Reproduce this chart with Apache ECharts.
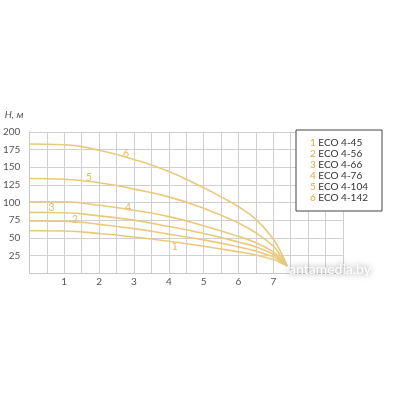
<!DOCTYPE html>
<html>
<head>
<meta charset="utf-8">
<script src="https://cdn.jsdelivr.net/npm/echarts@6/dist/echarts.min.js"></script>
<style>html,body{margin:0;padding:0;background:#fff}#c{width:400px;height:400px}</style>
</head>
<body>
<div id="c"></div>
<script>
var seriesNames = ['ECO 4-45', 'ECO 4-56', 'ECO 4-66', 'ECO 4-76', 'ECO 4-104', 'ECO 4-142'];
var curve1 = [[0,60],[1,59.5],[2,56],[3,51],[4,45],[5,38],[6,30],[6.5,25.5],[7,19],[7.2,15],[7.4,10]];
var curve2 = [[0,74],[1,73.5],[2,69],[3,63],[4,55],[5,47],[6,37],[6.5,31],[7,23],[7.2,17],[7.4,10]];
var curve3 = [[0,86],[1,85.5],[2,81],[3,75],[4,66],[5,56],[6,44],[6.5,37],[7,26.5],[7.2,19],[7.4,10]];
var curve4 = [[0,101],[1,101],[2,96],[3,89],[4,80],[5,67],[6,52],[6.5,43],[7,30],[7.2,21],[7.4,10]];
var curve5 = [[0,134],[1,133],[2,128],[3,119],[4,108],[5,92],[6,71],[6.5,57],[7,38],[7.2,25],[7.4,10]];
var curve6 = [[0,183],[1,182],[2,174],[3,161],[4,144],[5,121],[5.5,108],[6,94],[6.5,76],[7,48],[7.2,31],[7.4,10]];
var curveNumbers = ['1','2','3','4','5','6'];
var numberPositions = [[4.17,37],[1.31,76],[0.63,93],[2.83,93],[1.71,136],[2.77,169]];
var xTickLabels = ['1','2','3','4','5','6','7'];

var curves = [curve1, curve2, curve3, curve4, curve5, curve6];
var lineColor = '#ebc97c';
var numColor = '#dcab45';

var series = curves.map(function (c, i) {
  return {
    name: curveNumbers[i] + ' ' + seriesNames[i],
    type: 'line',
    data: c,
    smooth: 0.5,
    showSymbol: false,
    lineStyle: { color: lineColor, width: 1.6 },
    itemStyle: { color: lineColor },
    silent: true
  };
});
series.push({
  type: 'scatter',
  data: numberPositions.map(function (p, i) { return { value: p, name: curveNumbers[i] }; }),
  symbolSize: 0,
  silent: true,
  label: { show: true, position: 'inside', formatter: '{b}', color: numColor, fontSize: 11, fontFamily: 'Lato' }
});

var chart = echarts.init(document.getElementById('c'), null, { renderer: 'canvas' });
chart.setOption({
  animation: false,
  backgroundColor: '#fff',
  grid: { left: 28, right: 57, top: 132, bottom: 127, containLabel: false },
  xAxis: {
    type: 'value', min: 0, max: 9, interval: 0.5,
    axisLine: { show: true, lineStyle: { color: '#c8c8c8' } },
    axisTick: { show: false },
    splitLine: { show: true, lineStyle: { color: '#d0d0d0', width: 1 } },
    axisLabel: {
      margin: 4, color: '#555', fontSize: 10, fontFamily: 'Lato',
      formatter: function (v) { var s = String(v); return xTickLabels.indexOf(s) >= 0 ? s : ''; }
    }
  },
  yAxis: {
    type: 'value', min: 0, max: 200, interval: 25,
    name: 'H, м', nameLocation: 'end', nameGap: 12,
    nameTextStyle: { fontStyle: 'italic', color: '#555', fontSize: 10, fontFamily: 'Lato', align: 'right', padding: [0, 6, 0, 0] },
    axisLine: { show: true, lineStyle: { color: '#c8c8c8' } },
    axisTick: { show: false },
    splitLine: { show: true, lineStyle: { color: '#d0d0d0', width: 1 } },
    axisLabel: {
      margin: 9, color: '#555', fontSize: 10, fontFamily: 'Lato',
      formatter: function (v) { return v === 0 ? '' : String(v); }
    }
  },
  legend: {
    orient: 'vertical', left: 296, top: 130, width: 67,
    padding: [8, 14, 8, 9],
    borderColor: '#444', borderWidth: 1, backgroundColor: '#fff',
    icon: 'none', itemWidth: 0, itemHeight: 0, itemGap: 1,
    data: series.slice(0, 6).map(function (s) { return s.name; }),
    selectedMode: false,
    formatter: function (name) {
      var sp = name.indexOf(' ');
      return '{n|' + name.slice(0, sp) + '} ' + name.slice(sp + 1);
    },
    textStyle: {
      color: '#333', fontSize: 10, fontFamily: 'Lato', lineHeight: 10,
      rich: { n: { color: numColor, fontSize: 10, fontFamily: 'Lato' } }
    }
  },
  graphic: [{
    type: 'text', left: 289, top: 262, z: 100,
    style: { text: 'antamedia.by', fill: '#fff', font: '14px Lato', textShadowColor: '#777', textShadowBlur: 6 }
  }],
  series: series
});
</script>
</body>
</html>
